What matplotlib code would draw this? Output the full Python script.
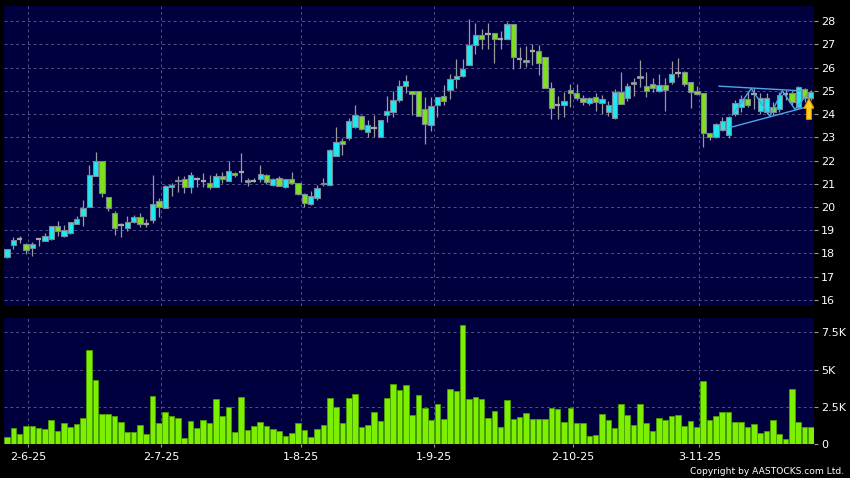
import matplotlib
matplotlib.use('Agg')
import matplotlib.pyplot as plt
import numpy as np
import pandas as pd
from matplotlib.patches import FancyArrow

# ---------------- data ----------------
holidays = ['2025-07-01', '2025-10-01', '2025-10-07', '2025-10-29']
dates = pd.bdate_range('2025-05-28', '2025-11-27')
dates = dates[~dates.isin(pd.to_datetime(holidays))]

opens = [17.86,18.35,18.61,18.42,18.22,18.61,18.55,18.61,19.20,18.77,
 18.87,19.28,19.63,19.99,21.34,22.00,20.42,19.73,19.23,19.11,
 19.34,19.59,19.27,19.43,20.26,19.95,20.84,21.10,21.20,20.88,
 21.20,21.10,21.02,20.84,21.35,21.10,21.46,21.50,21.07,21.13,
 21.19,21.37,20.93,21.23,20.84,21.20,21.03,20.56,20.13,20.38,
 20.99,20.93,22.18,22.82,22.97,23.44,23.90,23.22,23.40,23.00,
 23.97,24.09,24.62,25.21,25.00,24.98,24.23,23.51,24.37,24.76,
 25.02,25.53,25.63,26.11,26.97,27.40,27.45,27.47,27.25,27.25,
 27.87,26.35,26.32,26.72,26.72,26.44,25.10,24.41,24.38,25.03,
 24.90,24.67,24.47,24.75,24.47,24.09,23.84,24.94,24.68,25.29,
 25.55,25.22,25.29,25.01,25.26,25.36,25.76,25.79,25.36,25.01,
 24.89,23.17,23.03,23.31,23.10,24.00,24.31,24.63,24.85,24.13,
 24.10,24.29,24.20,24.85,24.92,24.29,25.06,24.68]

closes = [18.18,18.58,18.61,18.14,18.39,18.61,18.77,19.20,18.98,19.01,
 19.34,19.47,19.97,21.37,22.00,20.59,19.95,19.11,19.23,19.34,
 19.59,19.26,19.27,20.12,20.02,20.92,20.93,21.18,20.84,21.38,
 21.20,21.10,20.84,21.35,21.20,21.57,21.37,21.50,21.16,21.13,
 21.42,21.07,21.20,20.92,21.20,21.03,20.56,20.17,20.46,20.81,
 21.03,22.46,22.78,22.71,23.68,23.97,23.37,23.51,23.40,23.76,
 24.12,24.62,25.19,25.41,24.87,23.90,23.58,24.33,24.73,24.56,
 25.53,25.63,25.93,26.97,27.40,27.25,27.45,27.25,27.25,27.87,
 26.44,26.35,26.25,26.72,26.18,25.14,24.28,24.41,24.56,24.90,
 24.68,24.50,24.70,24.51,24.65,24.37,24.94,24.44,25.22,25.39,
 25.65,25.01,25.12,25.26,25.04,25.74,25.76,25.29,24.94,24.87,
 23.17,23.00,23.57,23.71,23.89,24.46,24.63,24.39,24.85,24.68,
 24.67,24.10,24.82,24.85,24.53,25.15,24.68,24.96]

highs = [18.20,18.70,18.77,18.45,18.51,18.62,18.87,19.20,19.40,19.23,
 19.36,19.61,20.30,21.81,22.36,22.00,20.42,19.83,19.30,19.61,
 19.67,19.74,19.49,21.38,20.38,20.95,21.02,21.34,21.34,21.50,
 21.27,21.45,21.38,21.45,21.50,21.98,21.50,22.32,21.25,21.25,
 21.82,21.43,21.25,21.33,21.20,21.50,21.05,20.60,20.67,20.93,
 21.25,22.50,23.43,22.97,23.83,24.37,23.95,23.73,23.97,23.76,
 24.76,24.99,25.45,25.67,25.00,24.98,24.73,24.73,24.73,25.24,
 25.74,26.36,26.36,28.11,27.90,27.68,27.93,27.47,27.58,27.97,
 27.87,26.90,26.92,27.00,26.97,26.44,25.39,24.77,24.96,25.29,
 25.29,24.80,24.75,24.89,24.80,24.58,25.08,25.82,25.32,25.55,
 26.31,25.82,25.55,25.72,25.55,26.28,26.42,25.85,25.40,25.20,
 24.89,23.17,23.62,23.88,23.91,24.60,24.80,25.00,25.10,24.90,
 24.90,24.50,24.95,25.05,25.00,25.20,25.10,25.05]

lows = [17.82,18.18,18.44,17.96,17.90,18.32,18.52,18.60,18.77,18.72,
 18.85,19.28,19.20,19.99,21.34,20.42,19.84,18.80,18.72,18.98,
 19.30,19.13,19.13,19.30,19.59,19.95,20.49,20.64,20.59,20.59,
 20.84,20.84,20.76,20.84,21.05,21.10,21.30,21.07,20.89,21.07,
 21.07,20.99,20.90,20.90,20.82,21.00,20.50,20.00,20.10,20.30,
 20.90,20.93,22.18,22.25,22.90,23.40,23.30,23.00,23.00,23.00,
 23.65,23.87,24.50,24.92,23.94,23.90,22.72,23.25,23.87,24.37,
 24.63,25.14,25.60,26.11,26.60,26.82,26.78,26.18,26.78,27.25,
 25.92,26.00,26.03,26.10,25.68,25.14,23.77,23.77,23.88,24.30,
 24.60,24.37,24.37,24.13,24.01,23.90,23.79,24.44,24.58,24.77,
 25.15,24.72,24.94,24.94,24.13,25.30,25.60,25.20,24.27,24.80,
 22.60,22.89,22.97,23.25,22.95,23.90,24.10,24.30,24.20,24.00,
 24.00,23.95,24.10,24.60,24.40,24.20,24.50,24.60]

volumes_k = [0.50,1.06,0.70,1.24,1.24,1.06,0.99,1.60,0.86,1.44,
 1.15,1.35,1.73,6.31,4.30,2.03,2.00,1.91,1.49,0.79,
 0.79,1.26,0.65,3.22,1.44,2.12,1.89,1.78,0.43,1.55,
 1.08,1.58,1.42,3.00,1.91,2.48,0.79,3.18,0.95,1.24,
 1.46,1.19,1.01,0.86,0.52,0.77,1.42,0.97,0.45,1.01,
 1.26,3.11,2.52,1.40,3.11,3.38,1.17,1.31,2.18,1.55,
 3.09,4.03,3.63,3.94,1.98,3.31,2.43,1.64,2.70,1.69,
 3.72,3.58,8.00,3.04,3.13,3.02,1.73,2.25,1.17,2.93,
 1.69,1.80,2.09,1.69,1.69,1.69,2.41,2.36,1.46,2.45,
 1.40,1.44,0.56,0.61,2.03,1.58,1.06,2.66,1.98,1.31,
 2.70,1.44,0.90,1.73,1.60,1.87,1.96,1.24,1.55,1.17,
 4.23,1.62,1.91,2.12,2.12,1.51,1.51,1.13,1.35,0.77,
 0.86,1.64,0.65,0.34,3.67,1.51,1.15,1.15]

# triangle / zigzag annotation (candle index, price)
tri_upper_x = [112.5, 125.5]
tri_upper_y = [25.20, 25.00]
tri_lower_x = [114.2, 126.3]
tri_lower_y = [23.42, 24.30]
zig_x = [114.6, 117.6, 120.5, 122.5, 124.5, 126.3]
zig_y = [23.96, 25.10, 23.91, 25.00, 24.20, 24.80]
arrow_x = 126.7
arrow_y = [23.77, 24.67]

price_ticks = list(range(16, 29))
vol_ticks = [0, 2.5, 5, 7.5]
vol_labels = ['0', '2.5K', '5K', '7.5K']

# ---------------- style ----------------
BG = '#00003e'
UP = '#1de9f2'
DN = '#7fe01e'
EDGE = '#7d8896'
WICK = '#9a9a9a'
GRID = '#50508a'
FIG_W, FIG_H = 850, 478

opens = np.array(opens); closes = np.array(closes)
highs = np.array(highs); lows = np.array(lows)
x = np.arange(len(opens))

# first trading day of each month (from June)
month_first = []
tick_labels = []
for k, d in enumerate(dates):
    if k > 0 and d.month != dates[k - 1].month:
        month_first.append(k)
        tick_labels.append(f"{d.day}-{d.month}-{d.strftime('%y')}")
tick_pos = np.array(month_first) + 0.4

fig = plt.figure(figsize=(FIG_W / 100, FIG_H / 100), dpi=100, facecolor='black')
ax1 = fig.add_axes([4 / FIG_W, 1 - 306 / FIG_H, 810 / FIG_W, 300 / FIG_H])
ax2 = fig.add_axes([4 / FIG_W, 1 - 444 / FIG_H, 810 / FIG_W, 126 / FIG_H])

xlim = (-0.47, 127.5)
for ax in (ax1, ax2):
    ax.set_facecolor(BG)
    for s in ax.spines.values():
        s.set_visible(False)
    ax.set_xlim(*xlim)
    ax.set_xticks(tick_pos)
    ax.grid(True, color=GRID, linestyle=(0, (3, 3)), linewidth=0.7)
    ax.set_axisbelow(True)
    ax.yaxis.tick_right()
    ax.tick_params(axis='y', colors='#9a9a9a', labelcolor='white', length=3,
                   width=0.8, pad=2, labelsize=8)

# price panel
ax1.set_ylim(15.74, 28.65)
ax1.set_yticks(price_ticks)
ax1.set_yticklabels([str(t) for t in price_ticks])
ax1.tick_params(axis='x', length=0, labelbottom=False)

up = closes > opens
dn = closes < opens
dj = closes == opens
ax1.vlines(x, lows, highs, color=WICK, linewidth=0.9, zorder=2)
bw = 0.84
ax1.bar(x[up], (closes - opens)[up], bottom=opens[up], width=bw, color=UP,
        edgecolor=EDGE, linewidth=0.8, zorder=3)
ax1.bar(x[dn], (opens - closes)[dn], bottom=closes[dn], width=bw, color=DN,
        edgecolor=EDGE, linewidth=0.8, zorder=3)
ax1.hlines(opens[dj], x[dj] - bw / 2, x[dj] + bw / 2, color='#a8a8a8',
           linewidth=1.6, zorder=3)

# trend annotations
LINE = '#4ea6e6'
ax1.plot(tri_upper_x, tri_upper_y, color=LINE, linewidth=1.0, zorder=4)
ax1.plot(tri_lower_x, tri_lower_y, color=LINE, linewidth=1.0, zorder=4)
ax1.plot(zig_x, zig_y, color=LINE, linewidth=1.0, zorder=4)
arr = FancyArrow(arrow_x, arrow_y[0], 0, arrow_y[1] - arrow_y[0], width=0.78,
                 head_width=1.6, head_length=0.42, length_includes_head=True,
                 facecolor='#ffd21e', edgecolor='#e08a00', linewidth=0.8, zorder=5)
ax1.add_patch(arr)

# volume panel
ax2.set_ylim(0, 8.47)
ax2.set_yticks(vol_ticks)
ax2.set_yticklabels(vol_labels)
ax2.bar(x, volumes_k, width=0.88, color='#7cf000', edgecolor='#4aa000',
        linewidth=0.6, zorder=3)
ax2.set_xticklabels(tick_labels)
ax2.tick_params(axis='x', colors='#9a9a9a', labelcolor='white', length=2.5,
                width=0.8, pad=3, labelsize=8)

fig.text(844 / FIG_W, 1 - 471.5 / FIG_H, 'Copyright by AASTOCKS.com Ltd.',
         color='white', fontsize=6.6, ha='right', va='center')

fig.savefig('out.png', dpi=100, facecolor='black')
